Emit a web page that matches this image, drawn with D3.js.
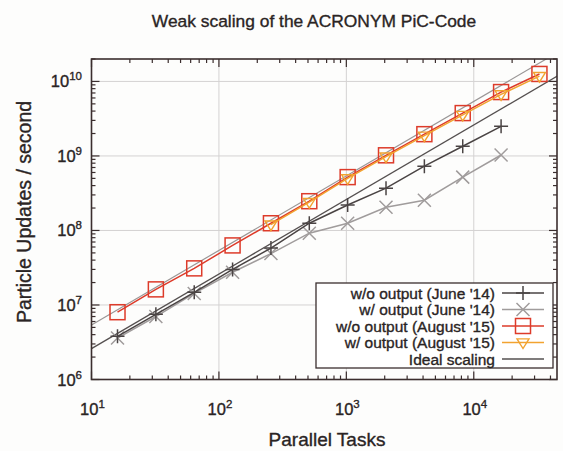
<!DOCTYPE html>
<html>
<head>
<meta charset="utf-8">
<script src="https://cdn.jsdelivr.net/npm/d3@7"></script>
<style>
  html, body { margin: 0; padding: 0; background: #fdfdfc; }
  svg { display: block; font-family: "Liberation Sans", Arial, sans-serif; }
  text { stroke: #2a2424; stroke-width: 0.35px; }
</style>
</head>
<body>
<svg id="chart" width="563" height="451"></svg>
<script>
// Parallel task counts (weak scaling runs)
const tasks = [16, 32, 64, 128, 256, 512, 1024, 2048, 4096, 8192, 16384, 32768];

// Particle updates per second for each run
const juneNoOutput   = [3.8e6, 7.5e6, 1.48e7, 3.0e7, 5.8e7, 1.25e8, 2.2e8, 3.7e8, 7.3e8, 1.35e9, 2.5e9];
const juneWithOutput = [3.6e6, 7.0e6, 1.43e7, 2.75e7, 4.9e7, 9.2e7, 1.25e8, 2.05e8, 2.55e8, 5.2e8, 1.03e9];
const augNoOutput    = [8.0e6, 1.62e7, 3.1e7, 6.3e7, 1.25e8, 2.47e8, 5.2e8, 1.02e9, 1.96e9, 3.76e9, 7.2e9, 1.26e10];
const augWithOutput  = [1.2e8, 2.4e8, 5.0e8, 9.8e8, 1.87e9, 3.55e9, 6.7e9, 1.18e10];
const augWithOutputTasks = [256, 512, 1024, 2048, 4096, 8192, 16384, 32768];

// Ideal (linear) scaling references
const idealTasks = [10, 50000];
const idealJune  = [2.6e6, 1.3e10];
const idealAug   = [5.4e6, 2.7e10];

// Axis ticks
const xMajor = [10, 100, 1000, 10000];
const xExp   = ["1", "2", "3", "4"];
const yMajor = [1e6, 1e7, 1e8, 1e9, 1e10];
const yExp   = ["6", "7", "8", "9", "10"];

const legendLabels = [
  "w/o output (June '14)",
  "w/ output (June '14)",
  "w/o output (August '15)",
  "w/ output (August '15)",
  "Ideal scaling"
];

const C_JUNE = "#4a4444", C_JUNE_W = "#a09c9c", C_AUG = "#dd3b2a", C_AUG_W = "#f2a330",
      C_IDEAL = "#555050", C_IDEAL2 = "#9a9696", C_FRAME = "#3b2e2e", C_GRID = "#d4d2d2",
      C_TEXT = "#2a2424";

const svg = d3.select("#chart");
const L = 91.5, R = 557, T = 59, B = 379.5;

const x = d3.scaleLog().domain([10, 45000]).range([L, R]);
const y = d3.scaleLog().domain([1e6, 2e10]).range([B, T]);

// Title
svg.append("text").attr("x", 314).attr("y", 27).attr("text-anchor", "middle")
  .attr("font-size", 17.4).attr("fill", C_TEXT).text("Weak scaling of the ACRONYM PiC-Code");

// Grid
const g = svg.append("g");
g.selectAll(".gx").data(xMajor.slice(1)).join("line")
  .attr("x1", d => x(d)).attr("x2", d => x(d)).attr("y1", T).attr("y2", B)
  .attr("stroke", C_GRID).attr("stroke-width", 1);
g.selectAll(".gy").data(yMajor.slice(1)).join("line")
  .attr("x1", L).attr("x2", R).attr("y1", d => y(d)).attr("y2", d => y(d))
  .attr("stroke", C_GRID).attr("stroke-width", 1);

// Ticks on all four sides (major + minor)
const xMinor = [];
for (let e = 1; e <= 4; e++) for (let m = 2; m <= 9; m++) { const v = m * Math.pow(10, e); if (v <= 45000) xMinor.push(v); }
const yMinor = [];
for (let e = 6; e <= 10; e++) for (let m = 2; m <= 9; m++) { const v = m * Math.pow(10, e); if (v <= 2e10) yMinor.push(v); }

const ticks = svg.append("g").attr("stroke", C_FRAME).attr("stroke-width", 1.2);
function xt(vals, len) {
  vals.forEach(v => {
    ticks.append("line").attr("x1", x(v)).attr("x2", x(v)).attr("y1", B).attr("y2", B - len);
    ticks.append("line").attr("x1", x(v)).attr("x2", x(v)).attr("y1", T).attr("y2", T + len);
  });
}
function yt(vals, len) {
  vals.forEach(v => {
    ticks.append("line").attr("y1", y(v)).attr("y2", y(v)).attr("x1", L).attr("x2", L + len);
    ticks.append("line").attr("y1", y(v)).attr("y2", y(v)).attr("x1", R).attr("x2", R - len);
  });
}
xt(xMajor, 8); xt(xMinor, 4);
yt(yMajor, 8); yt(yMinor, 4);

// Clip region for data
svg.append("clipPath").attr("id", "plotclip").append("rect")
  .attr("x", L).attr("y", T).attr("width", R - L).attr("height", B - T);
const plot = svg.append("g").attr("clip-path", "url(#plotclip)");

const line = d3.line().x(d => x(d[0])).y(d => y(d[1]));
const zip = (xs, ys) => ys.map((v, i) => [xs[i], v]);

// Ideal scaling lines
plot.append("path").datum(zip(idealTasks, idealAug)).attr("d", line)
  .attr("fill", "none").attr("stroke", C_IDEAL2).attr("stroke-width", 1.2);
plot.append("path").datum(zip(idealTasks, idealJune)).attr("d", line)
  .attr("fill", "none").attr("stroke", C_IDEAL).attr("stroke-width", 1.3);

// Marker drawing helpers
function plus(sel, cx, cy, s, col) {
  sel.append("path").attr("d", `M${cx - s},${cy}H${cx + s}M${cx},${cy - s}V${cy + s}`)
    .attr("stroke", col).attr("stroke-width", 1.5).attr("fill", "none");
}
function cross(sel, cx, cy, s, col) {
  sel.append("path").attr("d", `M${cx - s},${cy - s}L${cx + s},${cy + s}M${cx - s},${cy + s}L${cx + s},${cy - s}`)
    .attr("stroke", col).attr("stroke-width", 1.5).attr("fill", "none");
}
function square(sel, cx, cy, s, col) {
  sel.append("rect").attr("x", cx - s).attr("y", cy - s).attr("width", 2 * s).attr("height", 2 * s)
    .attr("stroke", col).attr("stroke-width", 1.5).attr("fill", "none");
}
function tri(sel, cx, cy, s, col) {
  sel.append("path").attr("d", `M${cx - s},${cy - s * 0.6}L${cx + s},${cy - s * 0.6}L${cx},${cy + s}Z`)
    .attr("stroke", col).attr("stroke-width", 1.4).attr("fill", "none");
}

const series = [
  { xs: tasks, ys: juneWithOutput, col: C_JUNE_W, mark: cross, size: 6.5 },
  { xs: tasks, ys: juneNoOutput, col: C_JUNE, mark: plus, size: 7 },
  { xs: tasks, ys: augNoOutput, col: C_AUG, mark: square, size: 7.5 },
  { xs: augWithOutputTasks, ys: augWithOutput, col: C_AUG_W, mark: tri, size: 6 }
];
series.forEach(s => {
  const pts = zip(s.xs, s.ys);
  plot.append("path").datum(pts).attr("d", line)
    .attr("fill", "none").attr("stroke", s.col).attr("stroke-width", 1.5);
  const mg = plot.append("g");
  pts.forEach(p => s.mark(mg, x(p[0]), y(p[1]), s.size, s.col));
});

// Frame
svg.append("rect").attr("x", L).attr("y", T).attr("width", R - L).attr("height", B - T)
  .attr("fill", "none").attr("stroke", C_FRAME).attr("stroke-width", 1.6);

// Tick labels
const lab = svg.append("g").attr("fill", C_TEXT).attr("font-size", 16.5);
xMajor.forEach((v, i) => {
  const t = lab.append("text").attr("x", x(v) + 1).attr("y", 415).attr("text-anchor", "middle");
  t.append("tspan").text("10");
  t.append("tspan").attr("dy", -7).attr("font-size", 11.5).text(xExp[i]);
});
yMajor.forEach((v, i) => {
  const t = lab.append("text").attr("x", 82).attr("y", y(v) + 6).attr("text-anchor", "end");
  t.append("tspan").text("10");
  t.append("tspan").attr("dy", -7).attr("font-size", 11.5).text(yExp[i]);
});

// Axis titles
svg.append("text").attr("x", 327).attr("y", 446).attr("text-anchor", "middle")
  .attr("font-size", 19).attr("fill", C_TEXT).text("Parallel Tasks");
svg.append("text").attr("transform", "translate(31,212) rotate(-90)").attr("text-anchor", "middle")
  .attr("font-size", 19.5).attr("fill", C_TEXT).text("Particle Updates / second");

// Legend
const lg = svg.append("g");
lg.append("rect").attr("x", 316).attr("y", 283).attr("width", 237).attr("height", 85)
  .attr("fill", "#fff").attr("stroke", C_FRAME).attr("stroke-width", 1.3);
const legendItems = [
  { col: C_JUNE, mark: plus, size: 7 },
  { col: C_JUNE_W, mark: cross, size: 6.5 },
  { col: C_AUG, mark: square, size: 7.5 },
  { col: C_AUG_W, mark: tri, size: 6 },
  { col: C_IDEAL, mark: null }
];
legendLabels.forEach((txt, i) => {
  const cy = 293 + i * 16.5;
  lg.append("text").attr("x", 495).attr("y", cy + 5.5).attr("text-anchor", "end")
    .attr("font-size", 15.5).attr("fill", C_TEXT).text(txt);
  const it = legendItems[i];
  lg.append("line").attr("x1", 502).attr("x2", 544).attr("y1", cy).attr("y2", cy)
    .attr("stroke", it.col).attr("stroke-width", it.mark ? 1.5 : 1.3);
  if (it.mark) it.mark(lg, 523, cy, it.size, it.col);
});
</script>
</body>
</html>
